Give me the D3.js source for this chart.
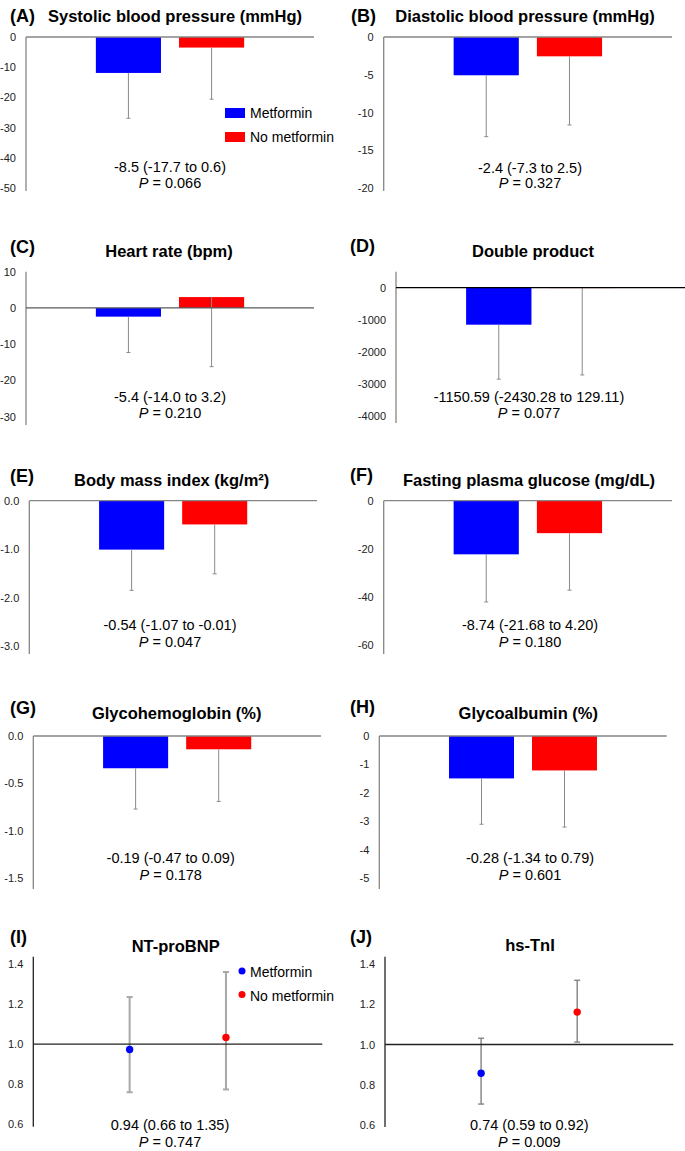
<!DOCTYPE html>
<html>
<head>
<meta charset="utf-8">
<script src="https://cdn.jsdelivr.net/npm/d3@7"></script>
<style>
  body { margin: 0; background: #fff; }
  svg { display: block; font-family: "Liberation Sans", Arial, sans-serif; }
</style>
</head>
<body>
<svg id="chart" width="685" height="1151"></svg>
<script>
// ---- data ----
const panelIds = ["(A)", "(B)", "(C)", "(D)", "(E)", "(F)", "(G)", "(H)", "(I)", "(J)"];
const panelTitles = [
  "Systolic blood pressure (mmHg)", "Diastolic blood pressure (mmHg)",
  "Heart rate (bpm)", "Double product",
  "Body mass index (kg/m²)", "Fasting plasma glucose (mg/dL)",
  "Glycohemoglobin (%)", "Glycoalbumin (%)",
  "NT-proBNP", "hs-TnI"
];
const groups = ["Metformin", "No metformin"];

// panels A-H : mean change, and lower end of the error bar
const metforminChange = [-11.9, -5.07, -2.4, -1153, -1.01, -22.3, -0.34, -1.49];
const metforminLower = [-26.9, -13.2, -12.3, -2850, -1.85, -42.1, -0.77, -3.1];
const noMetforminChange = [-3.5, -2.56, 3.0, -12, -0.49, -13.5, -0.14, -1.21];
const noMetforminLower = [-20.6, -11.65, -16.2, -2720, -1.51, -37.2, -0.69, -3.2];

// panels I-J : ratio with low / high
const ratioMetformin = [0.973, 0.857];
const ratioMetforminLow = [0.76, 0.704];
const ratioMetforminHigh = [1.235, 1.031];
const ratioNoMetformin = [1.033, 1.161];
const ratioNoMetforminLow = [0.774, 1.012];
const ratioNoMetforminHigh = [1.36, 1.319];

const effectTexts = [
  "-8.5 (-17.7 to 0.6)", "-2.4 (-7.3 to 2.5)", "-5.4 (-14.0 to 3.2)",
  "-1150.59 (-2430.28 to 129.11)", "-0.54 (-1.07 to -0.01)", "-8.74 (-21.68 to 4.20)",
  "-0.19 (-0.47 to 0.09)", "-0.28 (-1.34 to 0.79)", "0.94 (0.66 to 1.35)", "0.74 (0.59 to 0.92)"
];
const pValues = ["0.066", "0.327", "0.210", "0.077", "0.047", "0.180", "0.178", "0.601", "0.747", "0.009"];

const yDomains = [[-50, 0], [-20, 0], [-30, 10], [-4000, 0], [-3, 0], [-60, 0], [-1.5, 0], [-5, 0], [0.6, 1.4], [0.6, 1.4]];
const yTicks = [
  [0, -10, -20, -30, -40, -50], [0, -5, -10, -15, -20], [10, 0, -10, -20, -30],
  [0, -1000, -2000, -3000, -4000], [0, -1, -2, -3], [0, -20, -40, -60],
  [0, -0.5, -1, -1.5], [0, -1, -2, -3, -4, -5], [0.6, 0.8, 1.0, 1.2, 1.4], [0.6, 0.8, 1.0, 1.2, 1.4]
];
const tickFormats = ["d", "d", "d", "d", ".1f", "d", ".1f", "d", ".1f", ".1f"];
const baseLines = [0, 0, 0, 0, 0, 0, 0, 0, 1, 1];

// ---- layout ----
const frames = [
  {x0: 26, x1: 314, yMax: 37, yMin: 188, axisTop: 37, axisBot: 191, lab: [10, 16], title: [175, 16], note: [170, 167, 183]},
  {x0: 383.7, x1: 672, yMax: 37, yMin: 188, axisTop: 37, axisBot: 191, lab: [351, 16], title: [525, 16], note: [530, 168, 183]},
  {x0: 26, x1: 314, yMax: 271.7, yMin: 416.7, axisTop: 271.7, axisBot: 425, lab: [10, 246.7], title: [169, 250.7], note: [170, 396.7, 413]},
  {x0: 396, x1: 685, yMax: 287.7, yMin: 416, axisTop: 271.7, axisBot: 423, lab: [350, 245.7], title: [533, 250.7], note: [529, 396.7, 412.7]},
  {x0: 29.3, x1: 317, yMax: 500.7, yMin: 646, axisTop: 500.7, axisBot: 654, lab: [10, 475.7], title: [171.7, 480], note: [170, 625, 641.7]},
  {x0: 383.7, x1: 672, yMax: 500.7, yMin: 645, axisTop: 500.7, axisBot: 654, lab: [350, 475], title: [529, 480], note: [530, 625, 642.3]},
  {x0: 33.3, x1: 321, yMax: 736, yMin: 878.3, axisTop: 736, axisBot: 889, lab: [10, 708.3], title: [176.7, 713.3], note: [170.7, 858.3, 875]},
  {x0: 379.3, x1: 666.7, yMax: 736, yMin: 878.3, axisTop: 736, axisBot: 889, lab: [350, 706.7], title: [528.3, 713.3], note: [530, 858.3, 875]},
  {x0: 33.3, x1: 322.3, yMax: 964, yMin: 1124.3, axisTop: 956.7, axisBot: 1126.7, lab: [10, 936.7], title: [175.7, 946], note: [170, 1125, 1141.7]},
  {x0: 385, x1: 673.3, yMax: 964, yMin: 1125, axisTop: 956.7, axisBot: 1127, lab: [350, 936.7], title: [530, 945], note: [529.3, 1125, 1141.7]}
];
const colors = {"Metformin": "#0000ff", "No metformin": "#ff0000"};

const locale = d3.formatLocale({decimal: ".", thousands: ",", grouping: [3], currency: ["", ""], minus: "-"});
const svg = d3.select("#chart");

panelIds.forEach((id, i) => {
  const f = frames[i];
  const g = svg.append("g").attr("class", "panel");
  const y = d3.scaleLinear().domain(yDomains[i]).range([f.yMin, f.yMax]);
  const isBar = i < 8;
  const axisColor = isBar ? "#868686" : "#222";
  const baseColor = i === 3 ? "#000" : (i === 2 ? "#5a5a5a" : (isBar ? "#868686" : "#222"));

  // tick labels
  const yAxis = g.append("g")
    .attr("transform", "translate(" + (f.x0 - 10) + ",0)")
    .call(d3.axisLeft(y).tickValues(yTicks[i]).tickSize(0).tickPadding(0).tickFormat(locale.format(tickFormats[i])));
  yAxis.select(".domain").remove();
  yAxis.selectAll("text").attr("font-size", 11).attr("fill", "#222").attr("font-family", "Liberation Sans, Arial, sans-serif");

  // panel label and title
  g.append("text").text(id)
    .attr("x", f.lab[0]).attr("y", f.lab[1]).attr("dominant-baseline", "central")
    .attr("font-size", 18).attr("font-weight", "bold");
  g.append("text").text(panelTitles[i])
    .attr("x", f.title[0]).attr("y", f.title[1]).attr("dominant-baseline", "central")
    .attr("text-anchor", "middle").attr("font-size", 16.5).attr("font-weight", "bold");

  if (isBar) {
    const x = d3.scaleBand().domain(groups).range([f.x0, f.x1]).paddingInner(0.217).paddingOuter(0.84);
    const rows = [
      {grp: groups[0], v: metforminChange[i], lo: metforminLower[i]},
      {grp: groups[1], v: noMetforminChange[i], lo: noMetforminLower[i]}
    ];
    g.selectAll(".bar").data(rows).enter().append("rect")
      .attr("class", "bar")
      .attr("x", d => x(d.grp))
      .attr("width", x.bandwidth())
      .attr("y", d => y(Math.max(0, d.v)))
      .attr("height", d => Math.abs(y(d.v) - y(0)))
      .attr("fill", d => colors[d.grp]);

    // error bars (lower only)
    g.selectAll(".err").data(rows).enter().append("line")
      .attr("class", "err")
      .attr("x1", d => x(d.grp) + x.bandwidth() / 2).attr("x2", d => x(d.grp) + x.bandwidth() / 2)
      .attr("y1", d => y(d.v)).attr("y2", d => y(d.lo))
      .attr("stroke", "#8a8a8a").attr("stroke-width", 1);
    g.selectAll(".cap").data(rows).enter().append("line")
      .attr("class", "cap")
      .attr("x1", d => x(d.grp) + x.bandwidth() / 2 - 2).attr("x2", d => x(d.grp) + x.bandwidth() / 2 + 2)
      .attr("y1", d => y(d.lo)).attr("y2", d => y(d.lo))
      .attr("stroke", "#8a8a8a").attr("stroke-width", 1);
  } else {
    const k = i - 8;
    const x = d3.scalePoint().domain(groups).range([f.x0, f.x1]).padding(1);
    const rows = [
      {grp: groups[0], v: ratioMetformin[k], lo: ratioMetforminLow[k], hi: ratioMetforminHigh[k]},
      {grp: groups[1], v: ratioNoMetformin[k], lo: ratioNoMetforminLow[k], hi: ratioNoMetforminHigh[k]}
    ];
    const errColor = k === 0 ? "#a8a8a8" : "#8a8a8a";
    const errWidth = k === 0 ? 2 : 1.5;
    g.selectAll(".err").data(rows).enter().append("line")
      .attr("class", "err")
      .attr("x1", d => x(d.grp)).attr("x2", d => x(d.grp))
      .attr("y1", d => y(d.hi)).attr("y2", d => y(d.lo))
      .attr("stroke", errColor).attr("stroke-width", errWidth);
    rows.forEach(d => {
      [d.lo, d.hi].forEach(e => {
        g.append("line")
          .attr("x1", x(d.grp) - 3).attr("x2", x(d.grp) + 3)
          .attr("y1", y(e)).attr("y2", y(e))
          .attr("stroke", errColor).attr("stroke-width", errWidth);
      });
    });
    g.selectAll(".dot").data(rows).enter().append("circle")
      .attr("class", "dot")
      .attr("cx", d => x(d.grp)).attr("cy", d => y(d.v)).attr("r", 3.7)
      .attr("fill", d => colors[d.grp]);
  }

  // axis and baseline
  g.append("line")
    .attr("x1", f.x0).attr("x2", f.x0).attr("y1", f.axisTop).attr("y2", f.axisBot)
    .attr("stroke", axisColor).attr("stroke-width", 1.3);
  g.append("line")
    .attr("x1", f.x0).attr("x2", f.x1).attr("y1", y(baseLines[i])).attr("y2", y(baseLines[i]))
    .attr("stroke", baseColor).attr("stroke-width", 1.3);

  // effect estimate and P value
  g.append("text").text(effectTexts[i])
    .attr("x", f.note[0]).attr("y", f.note[1]).attr("dominant-baseline", "central")
    .attr("text-anchor", "middle").attr("font-size", 14.5);
  const p = g.append("text")
    .attr("x", f.note[0]).attr("y", f.note[2]).attr("dominant-baseline", "central")
    .attr("text-anchor", "middle").attr("font-size", 14.5);
  p.append("tspan").attr("font-style", "italic").text("P");
  p.append("tspan").text(" = " + pValues[i]);
});

// legends
const legendA = svg.append("g").attr("transform", "translate(225,108)");
groups.forEach((grp, j) => {
  legendA.append("rect").attr("x", 0).attr("y", j * 24).attr("width", 20).attr("height", 10).attr("fill", colors[grp]);
  legendA.append("text").text(grp).attr("x", 25).attr("y", j * 24 + 5)
    .attr("dominant-baseline", "central").attr("font-size", 14);
});
const legendI = svg.append("g").attr("transform", "translate(242,971)");
groups.forEach((grp, j) => {
  legendI.append("circle").attr("cx", 0).attr("cy", j * 23.5).attr("r", 3.5).attr("fill", colors[grp]);
  legendI.append("text").text(grp).attr("x", 8).attr("y", j * 23.5 + 1)
    .attr("dominant-baseline", "central").attr("font-size", 14);
});
</script>
</body>
</html>
